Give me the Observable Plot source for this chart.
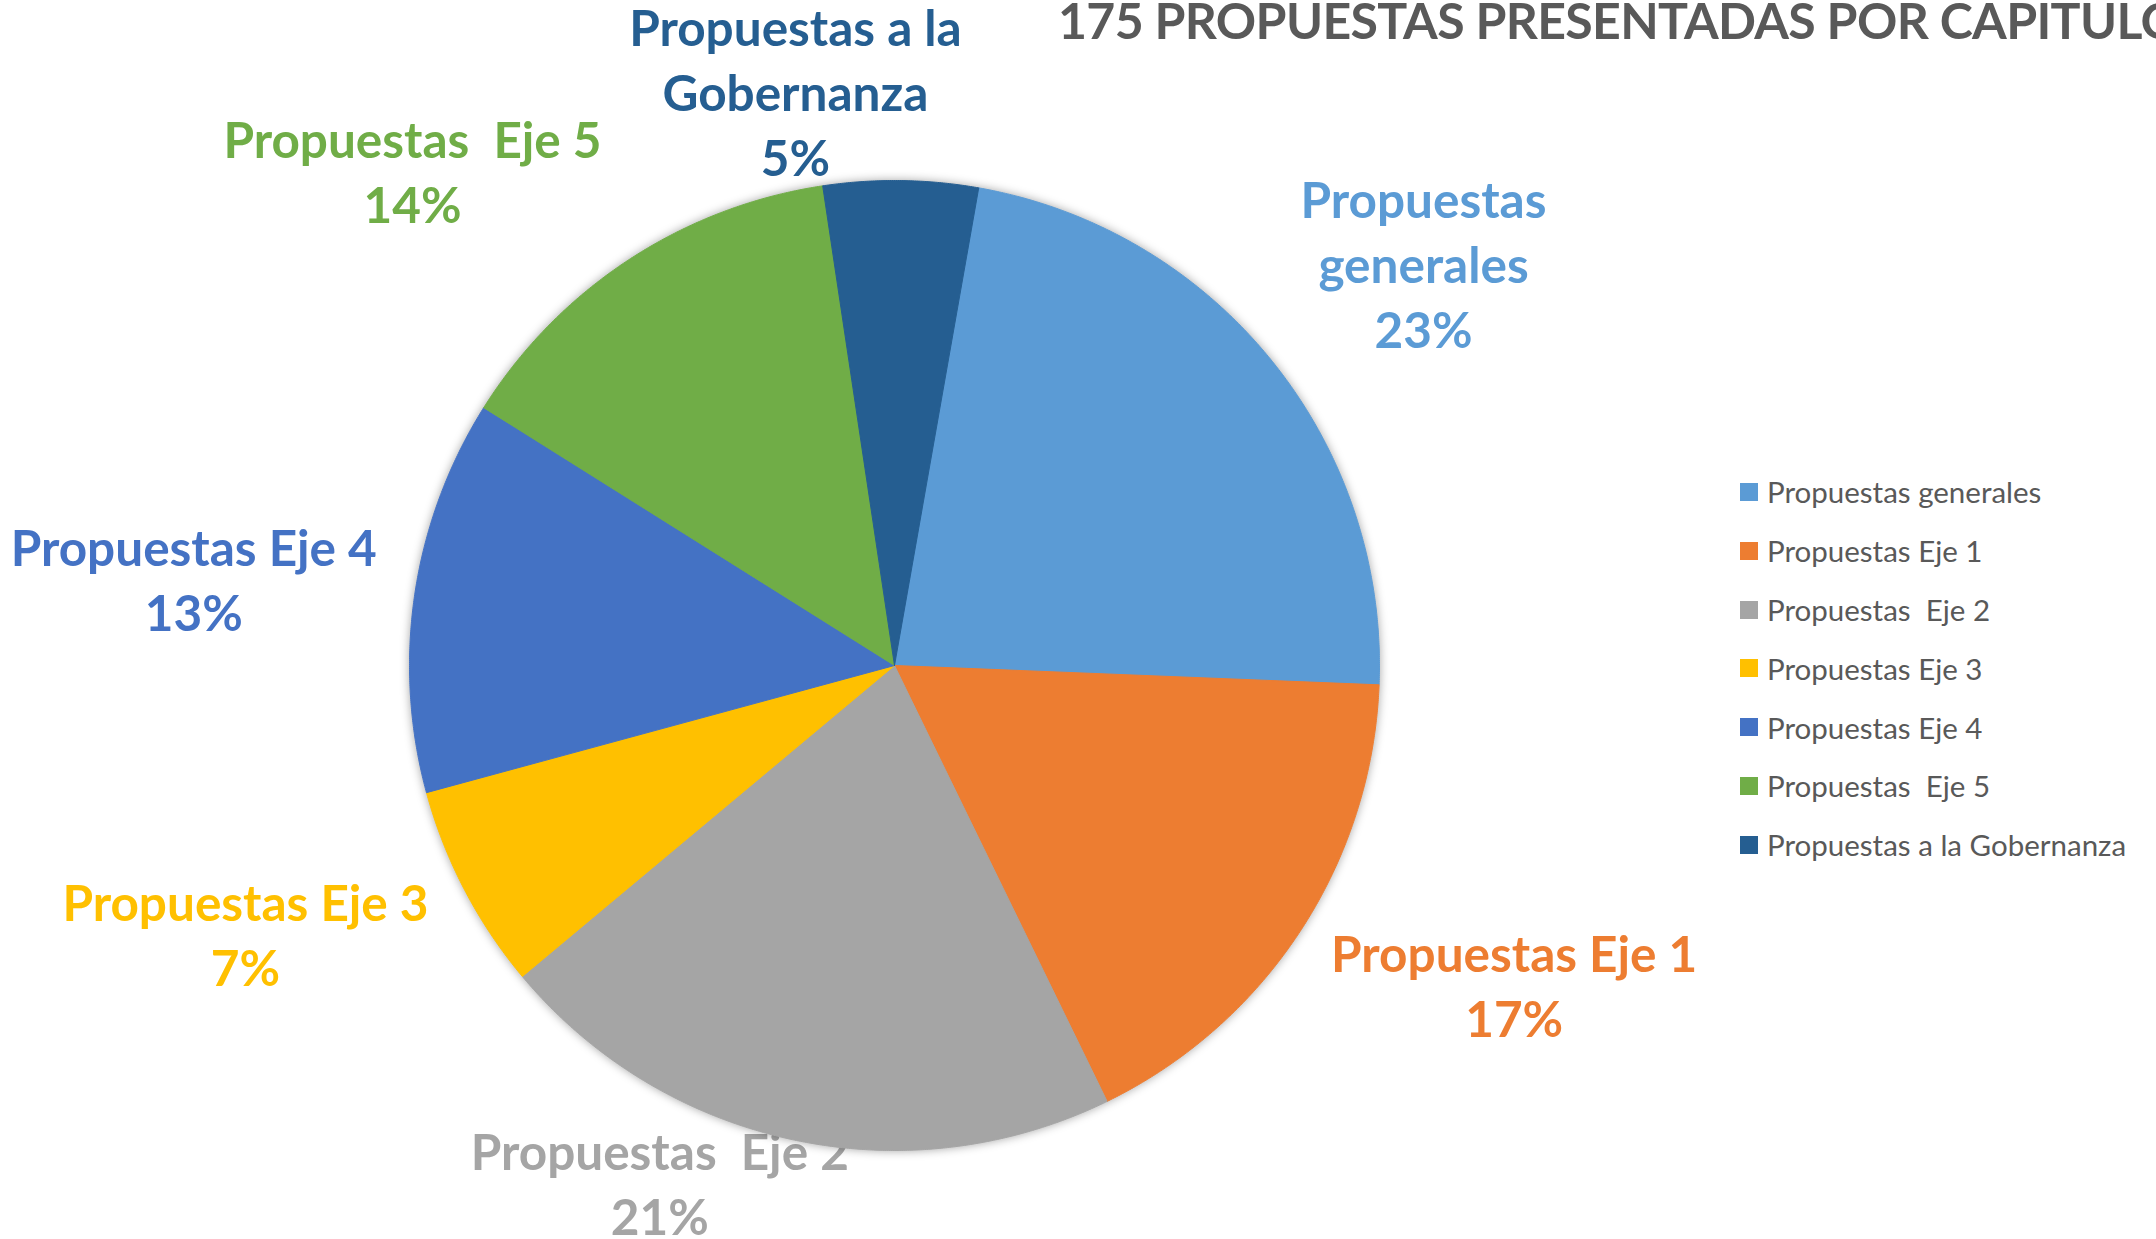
<!DOCTYPE html>
<html><head><meta charset="utf-8">
<script src="https://cdn.jsdelivr.net/npm/d3@7"></script>
<script src="https://cdn.jsdelivr.net/npm/@observablehq/plot@0.6"></script>
<style>
html,body{margin:0;padding:0;background:#fff;width:2156px;height:1239px;overflow:hidden;position:relative}
#chart{position:absolute;left:0;top:0}
#title{position:absolute;left:1058px;top:-10px;font-family:Lato;font-weight:bold;font-size:50px;line-height:1.2;letter-spacing:-0.65px;color:#595959;white-space:pre}
#legend{position:absolute;left:1740px;top:462.6px}
#legend .leg-swatch{height:58.8px;padding:0;margin:0;display:flex;align-items:center}
#legend, #legend *{white-space:pre !important}
#legend .leg-swatch svg{margin-right:9px}
svg text{white-space:pre}
#chart g[aria-label="line"]{filter:drop-shadow(0 0 5px rgba(0,0,0,0.35))}
</style></head><body>
<div id="chart"></div>
<div id="title">175 PROPUESTAS PRESENTADAS POR CAPITULO</div>
<div id="legend"></div>
<script>
// ---- data ----
const categories = ["Propuestas generales","Propuestas Eje 1","Propuestas  Eje 2","Propuestas Eje 3","Propuestas Eje 4","Propuestas  Eje 5","Propuestas a la Gobernanza"];
const counts = [40, 30, 37, 12, 23, 24, 9];
const labelNames = ["Propuestas\ngenerales","Propuestas Eje 1","Propuestas  Eje 2","Propuestas Eje 3","Propuestas Eje 4","Propuestas  Eje 5","Propuestas a la\nGobernanza"];
const colors = ["#5B9BD5","#ED7D31","#A5A5A5","#FFC000","#4472C4","#70AD47","#255E91"];

// ---- layout ----
const W = 2156, H = 1239, cx = 894, cy = 665, R = 485;
const firstSliceAngle = 10; // degrees
// label placement relative to slice mid-angle: [angle offset (deg), distance (radii)]
const labelPlacement = [[1.9,1.365],[-5.6,1.441],[12.2,1.178],[4.8,1.451],[-1.7,1.455],[-11.3,1.418],[-10.6,1.193]];

const total = d3.sum(counts);
const rows = categories.map((c,i)=>({category:c, count:counts[i], name:labelNames[i]}));
const a0 = firstSliceAngle*Math.PI/180;
const arcs = d3.pie().sort(null).value(d=>d.count).startAngle(a0).endAngle(a0+2*Math.PI)(rows);

const slicePoints = arcs.flatMap(a=>{
  const key = a.data.category;
  const n = Math.max(2, Math.ceil((a.endAngle-a.startAngle)/(Math.PI/720)));
  const pts = [{key, x:0, y:0}];
  for (let j=0;j<=n;j++){
    const t = a.startAngle + (a.endAngle-a.startAngle)*j/n;
    pts.push({key, x:Math.sin(t), y:-Math.cos(t)});
  }
  pts.push({key, x:0, y:0});
  return pts;
});

const labels = arcs.map((a,i)=>{
  const mid = (a.startAngle+a.endAngle)/2 + labelPlacement[i][0]*Math.PI/180;
  const r = labelPlacement[i][1];
  return {key:a.data.category, x:r*Math.sin(mid), y:-r*Math.cos(mid),
    text: a.data.name + "\n" + Math.round(a.data.count/total*100) + "%"};
});

const chart = Plot.plot({
  width: W, height: H, margin: 0,
  style: {background: "white", overflow: "visible"},
  x: {domain: [-cx/R, (W-cx)/R], range: [0, W], axis: null},
  y: {domain: [-cy/R, (H-cy)/R], range: [0, H], axis: null},
  color: {domain: categories, range: colors},
  marks: [
    Plot.text(labels, {x:"x", y:"y", text:"text", fill:"key", fontSize:49.5, fontWeight:"bold", fontFamily:"Lato", lineHeight:1.31, textAnchor:"middle", lineAnchor:"middle", dy:-5}),
    Plot.line(slicePoints, {x:"x", y:"y", z:"key", fill:"key", stroke:"key", strokeWidth:1})
  ]
});
document.getElementById("chart").appendChild(chart);

const legend = Plot.legend({
  color: {type:"ordinal", domain: categories, range: colors},
  columns: 1, swatchSize: 18, className: "leg",
  style: {fontFamily: "Lato", fontSize: "29.5px", color: "#595959", margin: 0}
});
document.getElementById("legend").appendChild(legend);
</script>
</body></html>
